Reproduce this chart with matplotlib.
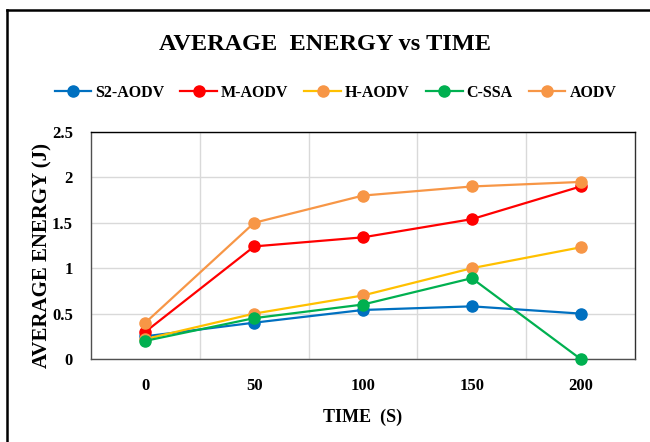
import matplotlib
matplotlib.use("Agg")
import matplotlib.pyplot as plt
from matplotlib.lines import Line2D

times = ["0", "50", "100", "150", "200"]
s2_aodv = [0.25, 0.40, 0.54, 0.58, 0.50]
m_aodv = [0.30, 1.24, 1.34, 1.54, 1.90]
h_aodv = [0.22, 0.50, 0.70, 1.00, 1.23]
c_ssa = [0.20, 0.45, 0.60, 0.89, 0.00]
aodv = [0.40, 1.50, 1.80, 1.90, 1.95]
yticks = [0, 0.5, 1, 1.5, 2, 2.5]
ytick_labels = ["0", "0.5", "1", "1.5", "2", "2.5"]

series = [
    ("S2-AODV", s2_aodv, "#0070C0", "#0070C0"),
    ("M-AODV", m_aodv, "#FF0000", "#FF0000"),
    ("H-AODV", h_aodv, "#FFC000", "#F79646"),
    ("C-SSA", c_ssa, "#00B050", "#00B050"),
    ("AODV", aodv, "#F79646", "#F79646"),
]

plt.rcParams['font.family'] = ['Liberation Serif', 'DejaVu Serif']
plt.rcParams['font.weight'] = 'bold'

fig = plt.figure(figsize=(6.5, 4.42), dpi=100)
ax = fig.add_axes([91/650, 1-359/442, (635-91)/650, (359-132)/442])

x = list(range(len(times)))
for name, vals, lc, mc in series:
    ax.plot(x, vals, color=lc, lw=1.6, marker='o', markersize=8,
            markerfacecolor=mc, markeredgecolor=mc, label=name, zorder=3,
            clip_on=False)

ax.set_xlim(-0.5, len(times) - 0.5)
ax.set_ylim(0, 2.5)
ax.set_xticks(x)
ax.set_xticklabels(times, fontsize=12, fontweight='bold')
ax.set_yticks(yticks)
ax.set_yticklabels(ytick_labels, fontsize=12, fontweight='bold')
ax.set_xticks([i + 0.5 for i in x[:-1]], minor=True)
ax.tick_params(axis='both', which='both', length=0)
ax.tick_params(axis='x', pad=14)
ax.tick_params(axis='y', pad=13)
ax.grid(True, axis='y', which='major', color='#D9D9D9', lw=1)
ax.grid(True, axis='x', which='minor', color='#D9D9D9', lw=1)
ax.grid(False, axis='x', which='major')
ax.set_axisbelow(True)
for sp in ax.spines.values():
    sp.set_color('#505050')
    sp.set_linewidth(1.0)
ax.spines['top'].set_color('black')
ax.spines['right'].set_color('#303030')

ax.set_xlabel("TIME  (S)", fontsize=13, fontweight='bold', labelpad=10)
fig.text(42/650, 1-256/442, "AVERAGE ENERGY (J)", rotation=90, ha='center', va='center',
         fontsize=15, fontweight='bold')

fig.text(0.5, 1-45/442, "AVERAGE  ENERGY vs TIME", ha='center', va='center',
         fontsize=17.5, fontweight='bold')

handles, labels = ax.get_legend_handles_labels()
fig.legend(handles, labels, loc='center', bbox_to_anchor=(0.516, 1-93/442), ncol=5,
           frameon=False, prop={'size': 11.5, 'weight': 'bold'}, handlelength=2.3,
           columnspacing=1.0, handletextpad=0.25)

fig.add_artist(Line2D([7/650, 7/650], [0, 1-10/442], transform=fig.transFigure, color='black', lw=1.8))
fig.add_artist(Line2D([7/650, 1], [1-10/442, 1-10/442], transform=fig.transFigure, color='black', lw=1.8))

fig.savefig("out.png", dpi=100)
